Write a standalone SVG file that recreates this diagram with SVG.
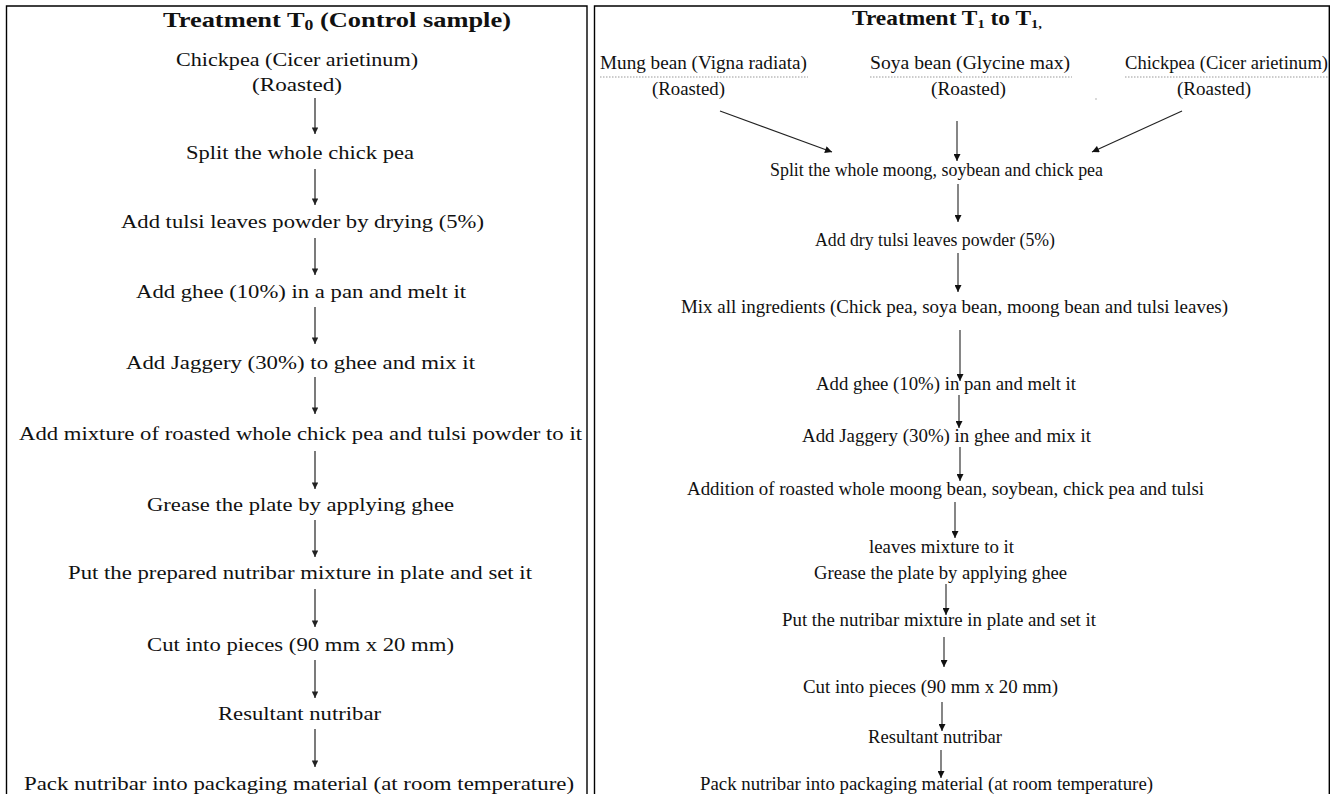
<svg xmlns="http://www.w3.org/2000/svg" width="1335" height="794" viewBox="0 0 1335 794">
<style>
.frame{fill:none;stroke:#000;stroke-width:1.4}
.t{font-family:"Liberation Serif","Times New Roman",serif;fill:#111}
.l{font-size:18px}
.r{font-size:19px}
.h{font-weight:bold;font-size:21px}
.ul{stroke:#999;stroke-width:1;stroke-dasharray:1.5 1.5}
.arL{stroke:#333;stroke-width:1.3;fill:none;marker-end:url(#ahL)}
.arR{stroke:#222;stroke-width:1.1;fill:none;marker-end:url(#ahR)}
</style>
<defs>
<marker id="ahL" viewBox="0 0 10 10" refX="10" refY="5" markerWidth="8" markerHeight="6.5" orient="auto" markerUnits="userSpaceOnUse"><path d="M0,0 L10,5 L0,10 z" fill="#222"/></marker>
<marker id="ahR" viewBox="0 0 10 10" refX="10" refY="5" markerWidth="9" markerHeight="7" orient="auto" markerUnits="userSpaceOnUse"><path d="M0,0 L10,5 L0,10 z" fill="#111"/></marker>
</defs>
<rect width="1335" height="794" fill="#fff"/>
<g id="frames">
<path class="frame" d="M6.5,800 V6 H587 V800"/>
<path class="frame" d="M594.5,800 V6 H1329.3 V800"/>
</g>

<g id="left-panel">
<g id="L-title"><text class="t h" x="163" y="27" font-size="22" textLength="348" lengthAdjust="spacingAndGlyphs">Treatment T<tspan font-size="14" dy="3">0</tspan><tspan dy="-3"> (Control sample)</tspan></text></g>
<g id="L-chickpea"><text class="t l" x="176" y="66" textLength="242" lengthAdjust="spacingAndGlyphs">Chickpea (Cicer arietinum)</text>
<text class="t l" x="252" y="91" textLength="90" lengthAdjust="spacingAndGlyphs">(Roasted)</text></g>
<g id="L-split"><text class="t l" x="186" y="159" textLength="228" lengthAdjust="spacingAndGlyphs">Split the whole chick pea</text></g>
<g id="L-tulsi"><text class="t l" x="121" y="228" textLength="363" lengthAdjust="spacingAndGlyphs">Add tulsi leaves powder by drying (5%)</text></g>
<g id="L-ghee"><text class="t l" x="136" y="298" textLength="330" lengthAdjust="spacingAndGlyphs">Add ghee (10%) in a pan and melt it</text></g>
<g id="L-jaggery"><text class="t l" x="126" y="369" textLength="349" lengthAdjust="spacingAndGlyphs">Add Jaggery (30%) to ghee and mix it</text></g>
<g id="L-mixture"><text class="t l" x="19" y="440" textLength="563" lengthAdjust="spacingAndGlyphs">Add mixture of roasted whole chick pea and tulsi powder to it</text></g>
<g id="L-grease"><text class="t l" x="147" y="511" textLength="307" lengthAdjust="spacingAndGlyphs">Grease the plate by applying ghee</text></g>
<g id="L-put"><text class="t l" x="68" y="579" textLength="464" lengthAdjust="spacingAndGlyphs">Put the prepared nutribar mixture in plate and set it</text></g>
<g id="L-cut"><text class="t l" x="147" y="651" textLength="307" lengthAdjust="spacingAndGlyphs">Cut into pieces (90 mm x 20 mm)</text></g>
<g id="L-result"><text class="t l" x="218" y="720" textLength="163" lengthAdjust="spacingAndGlyphs">Resultant nutribar</text></g>
<g id="L-pack"><text class="t l" x="24" y="790" textLength="550" lengthAdjust="spacingAndGlyphs">Pack nutribar into packaging material (at room temperature)</text></g>
</g>

<g id="right-panel">
<g id="R-title"><text class="t h" x="852" y="25" textLength="190" lengthAdjust="spacingAndGlyphs">Treatment T<tspan font-size="13" dy="3">1</tspan><tspan dy="-3"> to T</tspan><tspan font-size="13" dy="3">1,</tspan></text></g>
<g id="R-mung"><text class="t r" x="600" y="69" textLength="207" lengthAdjust="spacingAndGlyphs">Mung bean (Vigna radiata)</text>
<line class="ul" x1="600" y1="77" x2="808" y2="77"/>
<text class="t r" x="652" y="95" textLength="73" lengthAdjust="spacingAndGlyphs">(Roasted)</text></g>
<g id="R-soya"><text class="t r" x="870" y="69" textLength="200" lengthAdjust="spacingAndGlyphs">Soya bean (Glycine max)</text>
<line class="ul" x1="870" y1="77" x2="1072" y2="77"/>
<text class="t r" x="931" y="95" textLength="75" lengthAdjust="spacingAndGlyphs">(Roasted)</text></g>
<g id="R-chickpea"><text class="t r" x="1125" y="69" textLength="203" lengthAdjust="spacingAndGlyphs">Chickpea (Cicer arietinum)</text>
<line class="ul" x1="1125" y1="77" x2="1329" y2="77"/>
<text class="t r" x="1177" y="95" textLength="74" lengthAdjust="spacingAndGlyphs">(Roasted)</text></g>
<circle cx="1096" cy="99" r="0.8" fill="#aaa"/>
<g id="R-split"><text class="t r" x="770" y="176" textLength="333" lengthAdjust="spacingAndGlyphs">Split the whole moong, soybean and chick pea</text></g>
<g id="R-tulsi"><text class="t r" x="815" y="246" textLength="240" lengthAdjust="spacingAndGlyphs">Add dry tulsi leaves powder (5%)</text></g>
<g id="R-mix"><text class="t r" x="681" y="313" textLength="547" lengthAdjust="spacingAndGlyphs">Mix all ingredients (Chick pea, soya bean, moong bean and tulsi leaves)</text></g>
<g id="R-ghee"><text class="t r" x="816" y="390" textLength="260" lengthAdjust="spacingAndGlyphs">Add ghee (10%) in pan and melt it</text></g>
<g id="R-jaggery"><text class="t r" x="802" y="442" textLength="289" lengthAdjust="spacingAndGlyphs">Add Jaggery (30%) in ghee and mix it</text></g>
<g id="R-addition"><text class="t r" x="687" y="495" textLength="517" lengthAdjust="spacingAndGlyphs">Addition of roasted whole moong bean, soybean, chick pea and tulsi</text>
<text class="t r" x="869" y="553" textLength="145" lengthAdjust="spacingAndGlyphs">leaves mixture to it</text></g>
<g id="R-grease"><text class="t r" x="814" y="579" textLength="253" lengthAdjust="spacingAndGlyphs">Grease the plate by applying ghee</text></g>
<g id="R-put"><text class="t r" x="782" y="626" textLength="314" lengthAdjust="spacingAndGlyphs">Put the nutribar mixture in plate and set it</text></g>
<g id="R-cut"><text class="t r" x="803" y="693" textLength="255" lengthAdjust="spacingAndGlyphs">Cut into pieces (90 mm x 20 mm)</text></g>
<g id="R-result"><text class="t r" x="868" y="743" textLength="134" lengthAdjust="spacingAndGlyphs">Resultant nutribar</text></g>
<g id="R-pack"><text class="t r" x="700" y="790" textLength="453" lengthAdjust="spacingAndGlyphs">Pack nutribar into packaging material (at room temperature)</text></g>
</g>

<g id="connectors">
<line class="arL" x1="315" y1="98" x2="315" y2="134"/>
<line class="arL" x1="315" y1="169" x2="315" y2="205"/>
<line class="arL" x1="315" y1="238" x2="315" y2="275"/>
<line class="arL" x1="315" y1="307" x2="315" y2="344"/>
<line class="arL" x1="315" y1="377" x2="315" y2="414"/>
<line class="arL" x1="315" y1="451" x2="315" y2="489"/>
<line class="arL" x1="315" y1="520" x2="315" y2="557"/>
<line class="arL" x1="315" y1="589" x2="315" y2="627"/>
<line class="arL" x1="315" y1="660" x2="315" y2="698"/>
<line class="arL" x1="315" y1="729" x2="315" y2="767"/>

<line class="arR" x1="720" y1="111" x2="832" y2="152"/>
<line class="arR" x1="957" y1="121" x2="957" y2="161"/>
<line class="arR" x1="1182" y1="111" x2="1092" y2="152"/>
<line class="arR" x1="958" y1="184" x2="958" y2="222"/>
<line class="arR" x1="958" y1="253" x2="958" y2="292"/>
<line class="arR" x1="960" y1="330" x2="960" y2="381"/>
<line class="arR" x1="959" y1="395" x2="959" y2="428"/>
<line class="arR" x1="960" y1="447" x2="960" y2="481"/>
<line class="arR" x1="955" y1="502" x2="955" y2="538"/>
<line class="arR" x1="946" y1="584" x2="946" y2="615"/>
<line class="arR" x1="944" y1="637" x2="944" y2="667"/>
<line class="arR" x1="942" y1="702" x2="942" y2="731"/>
<line class="arR" x1="941" y1="750" x2="941" y2="778"/>
</g>
</svg>
